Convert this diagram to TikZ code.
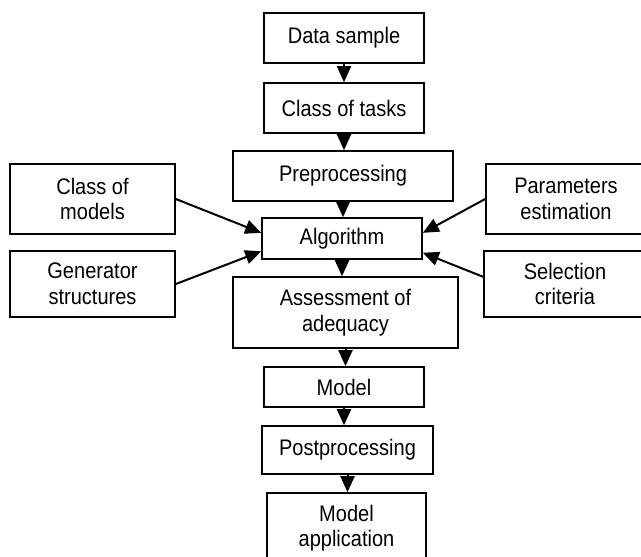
\documentclass[tikz,border=0pt]{standalone}
\usepackage{fontspec}
\setmainfont[FakeStretch=0.89]{Liberation Sans}
\usepackage{tikz}
\usetikzlibrary{arrows.meta}

\begin{document}
\begin{tikzpicture}[x=1pt,y=-1pt,
  flow/.style={line width=2pt,-{Triangle[length=16pt,width=14pt]}}]
\useasboundingbox (0,0) rectangle (641,557);
\begin{scope}[every node/.style={draw,line width=1.6pt,rectangle,inner sep=0pt,align=center,font=\fontsize{22.5}{25.5}\selectfont}]
\node[minimum width=160pt,minimum height=50pt] (data) at (344,38) {Data sample};
\node[minimum width=160pt,minimum height=50pt] (tasks) at (344,108) {Class of tasks};
\node[minimum width=220pt,minimum height=50pt] (prep) at (343,176) {Preprocessing};
\node[minimum width=160pt,minimum height=41pt] (algo) at (342,238.5) {Algorithm};
\node[minimum width=225pt,minimum height=71pt] (assess) at (345.5,312.5) {Assessment of\\adequacy};
\node[minimum width=160pt,minimum height=40pt] (model) at (344,387) {Model};
\node[minimum width=171pt,minimum height=48pt] (post) at (347.5,450) {Postprocessing};
\node[minimum width=159pt,minimum height=70pt] (app) at (346.5,528) {Model\\application};

\node[minimum width=165pt,minimum height=70pt] (cmodels) at (92.5,199) {Class of\\models};
\node[minimum width=165pt,minimum height=66pt] (gen) at (92.5,284) {Generator\\structures};

\node[minimum width=160pt,minimum height=70pt] (params) at (566,199) {Parameters\\estimation};
\node[minimum width=162pt,minimum height=66pt] (select) at (565,284) {Selection\\criteria};
\end{scope}

% main chain
\draw[flow] (data.south) -- (data.south |- tasks.north);
\draw[flow] (tasks.south) -- (tasks.south |- prep.north);
\draw[flow] (prep.south) -- (prep.south |- algo.north);
\draw[flow] (algo.south) -- (algo.south |- assess.north);
\draw[flow] (assess.south) -- (assess.south |- model.north);
\draw[flow] (model.south) -- (model.south |- post.north);
\draw[flow] (post.south) -- (post.south |- app.north);

% side inputs
\draw[flow] (cmodels.east) -- (algo.176);
\draw[flow] (gen.east) -- (algo.189);
\draw[flow] (params.west) -- (algo.4);
\draw[flow] (select.175) -- (algo.350);

\end{tikzpicture}
\end{document}
